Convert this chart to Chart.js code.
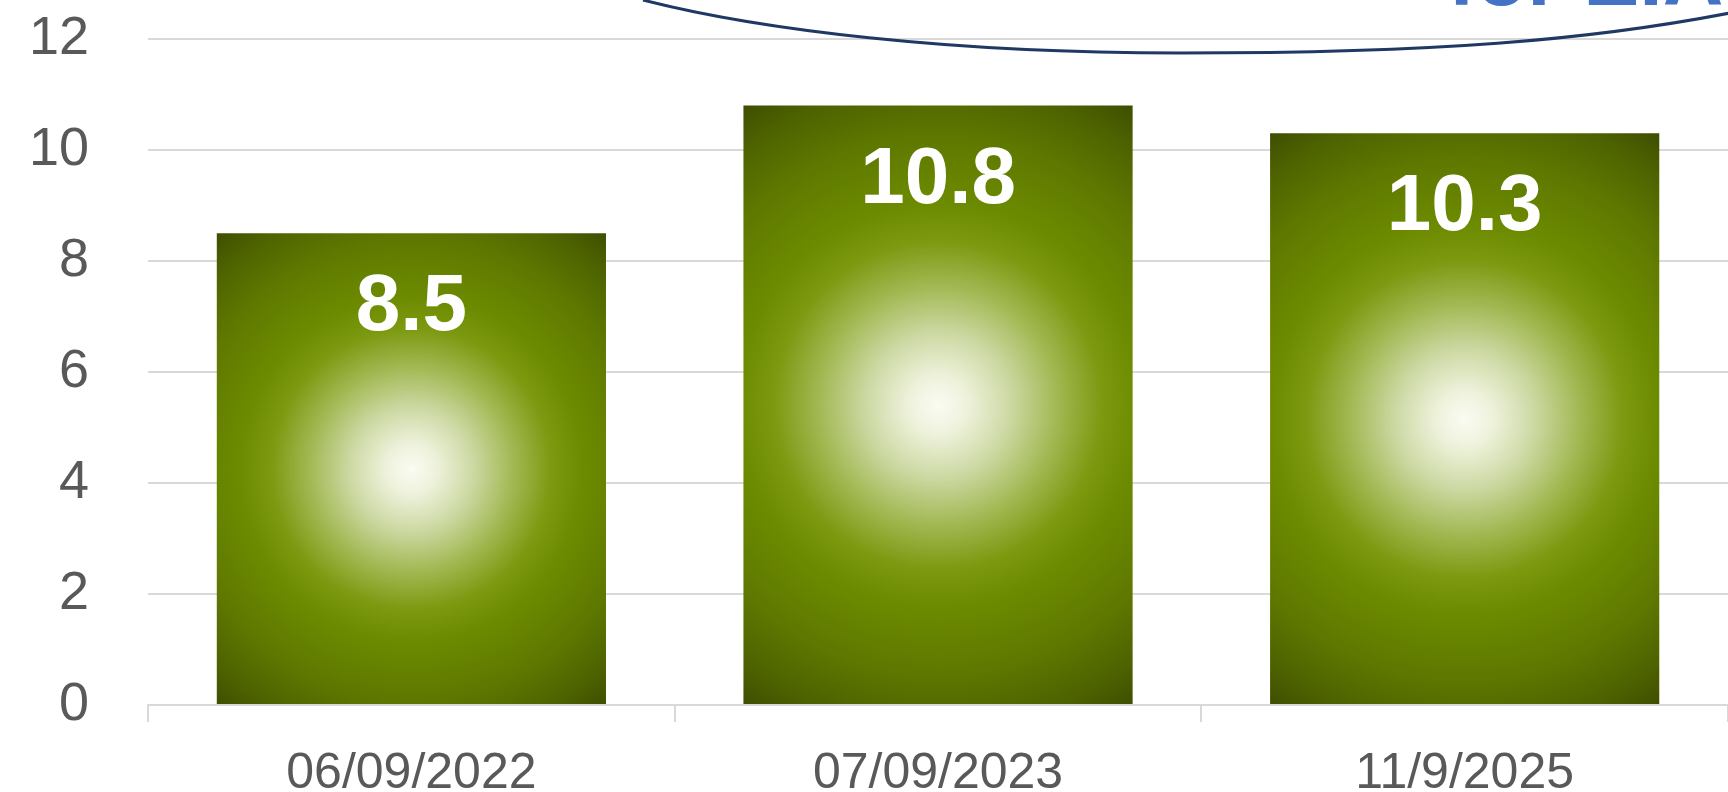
<!DOCTYPE html>
<html>
<head>
<meta charset="utf-8">
<script src="https://cdn.jsdelivr.net/npm/chart.js@4"></script>
<style>
  html, body { margin: 0; padding: 0; background: #fff; overflow: hidden; }
  #wrap { width: 1728px; height: 792px; position: relative; }
</style>
</head>
<body>
<div id="wrap"><canvas id="myChart"></canvas></div>
<script>
var categories = ["06/09/2022", "07/09/2023", "11/9/2025"];
var values = [8.5, 10.8, 10.3];
var yMin = 0, yMax = 12, yStep = 2;
var calloutText = "for EIA";

var barPct = 0.739;
var fontFamily = '"Liberation Sans", Arial, sans-serif';

// radial glow in each bar, built from the scales
function barFill(c) {
  var chart = c.chart;
  var area = chart.chartArea;
  if (!area || c.type !== "data") return "#6b8a00";
  var sx = chart.scales.x, sy = chart.scales.y;
  var i = c.dataIndex;
  var x = sx.getPixelForValue(i);
  var top = sy.getPixelForValue(values[i]);
  var base = sy.getPixelForValue(0);
  var half = (sx.width / categories.length) * barPct / 2;
  var cy = (top + base) / 2;
  var r = Math.hypot(half, (base - top) / 2);
  var g = chart.ctx.createRadialGradient(x, cy, 0, x, cy, r);
  g.addColorStop(0, "#fbfbf3");
  g.addColorStop(0.08, "#eef2dc");
  g.addColorStop(0.2, "#cdd9a4");
  g.addColorStop(0.33, "#a3b955");
  g.addColorStop(0.46, "#7c9910");
  g.addColorStop(0.56, "#6d8b00");
  g.addColorStop(0.75, "#5e7800");
  g.addColorStop(0.9, "#4d6200");
  g.addColorStop(1, "#3e4e00");
  return g;
}

const valueLabels = {
  id: "valueLabels",
  afterDatasetsDraw(chart) {
    const ctx = chart.ctx;
    const meta = chart.getDatasetMeta(0);
    ctx.save();
    ctx.font = "bold 80px " + fontFamily;
    ctx.fillStyle = "#ffffff";
    ctx.textAlign = "center";
    ctx.textBaseline = "alphabetic";
    meta.data.forEach(function (bar, i) {
      ctx.fillText(values[i].toFixed(1), bar.x, bar.y + 97);
    });
    ctx.restore();
  }
};

// the cut-off callout bubble at the top
const callout = {
  id: "callout",
  afterDraw(chart) {
    const ctx = chart.ctx;
    ctx.save();
    ctx.beginPath();
    ctx.moveTo(643, 0);
    ctx.bezierCurveTo(760, 30, 950, 53, 1180, 53);
    ctx.bezierCurveTo(1430, 53, 1590, 41, 1740, 11);
    ctx.strokeStyle = "#1f3864";
    ctx.lineWidth = 3;
    ctx.stroke();
    ctx.font = "bold 84px " + fontFamily;
    ctx.fillStyle = "#4472c4";
    ctx.textBaseline = "alphabetic";
    ctx.fillText(calloutText, 1448, 5);
    ctx.restore();
  }
};

new Chart("myChart", {
  type: "bar",
  data: {
    labels: categories,
    datasets: [{
      data: values,
      backgroundColor: barFill,
      barPercentage: barPct,
      categoryPercentage: 1
    }]
  },
  plugins: [valueLabels, callout],
  options: {
    responsive: true,
    maintainAspectRatio: false,
    animation: false,
    layout: { padding: { left: 24, top: 39, right: 0, bottom: -35 } },
    plugins: {
      legend: { display: false },
      tooltip: { enabled: false }
    },
    scales: {
      x: {
        grid: {
          offset: true,
          drawOnChartArea: false,
          color: "#d9d9d9",
          lineWidth: 2,
          tickLength: 17
        },
        border: { color: "#d9d9d9", width: 2 },
        ticks: {
          color: "#595959",
          padding: 30,
          font: { family: fontFamily, size: 50, lineHeight: 0.9 }
        }
      },
      y: {
        min: yMin,
        max: yMax,
        grid: {
          color: "#d9d9d9",
          lineWidth: 2,
          drawTicks: true,
          tickLength: 54,
          tickColor: "rgba(0,0,0,0)"
        },
        border: { display: false },
        ticks: {
          stepSize: yStep,
          color: "#595959",
          padding: 5,
          font: { family: fontFamily, size: 54 }
        }
      }
    }
  }
});
</script>
</body>
</html>
